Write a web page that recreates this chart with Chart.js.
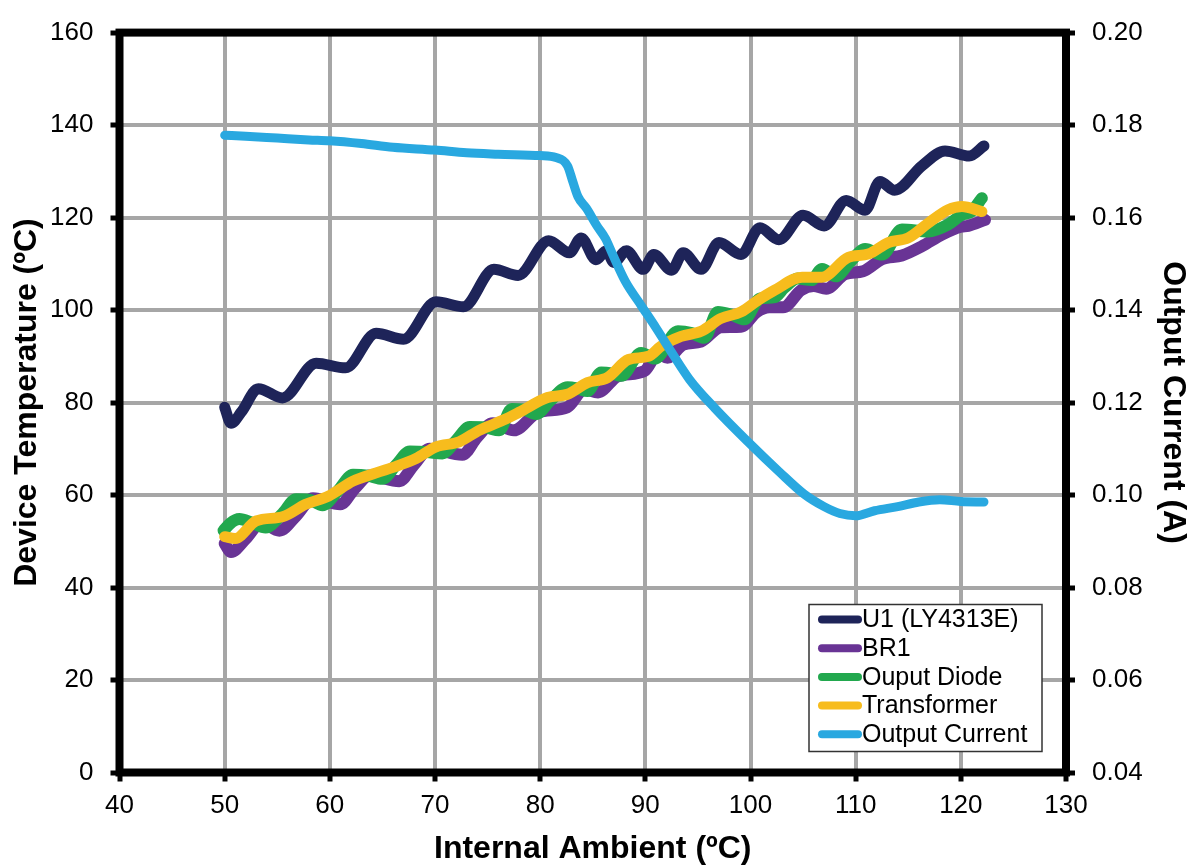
<!DOCTYPE html>
<html>
<head>
<meta charset="utf-8">
<script src="https://cdn.jsdelivr.net/npm/chart.js@4.4.1/dist/chart.umd.min.js"></script>
<style>
  body { margin: 0; background: #fff; }
  #wrap { width: 1195px; height: 868px; }
</style>
</head>
<body>
<div id="wrap"><canvas id="thermalChart"></canvas></div>
<script>
// U1 (LY4313E) - device temperature
const u1X = [50.0, 50.6, 51.6, 53.2, 55.5, 58.7, 61.5, 64.4, 67.0, 70.1, 72.7, 75.6, 77.9, 80.8, 82.8, 83.9, 85.3, 86.3, 87.0, 88.2, 89.8, 90.8, 92.5, 93.6, 95.3, 97.0, 99.1, 100.9, 102.7, 105.0, 107.0, 109.1, 110.9, 112.3, 113.7, 116.3, 118.5, 120.8, 122.2];
const u1Y = [79.0, 75.5, 78.0, 83.0, 81.0, 88.5, 87.5, 95.0, 93.7, 101.8, 100.7, 108.8, 107.5, 115.0, 112.4, 115.6, 110.9, 112.8, 110.3, 112.8, 108.8, 112.0, 108.6, 112.4, 108.8, 114.6, 112.0, 117.8, 115.2, 120.5, 118.2, 123.7, 121.6, 127.8, 125.9, 131.2, 134.4, 133.3, 135.5];

// BR1
const br1X = [50.0, 50.6, 52.0, 53.5, 55.2, 56.8, 58.4, 61.0, 62.4, 63.8, 66.6, 68.0, 69.5, 72.6, 74.0, 75.5, 77.5, 79.8, 82.6, 84.2, 85.5, 87.4, 89.9, 91.2, 92.1, 93.6, 95.3, 97.2, 99.1, 100.6, 101.8, 103.1, 104.8, 106.0, 107.2, 109.0, 110.7, 112.5, 114.4, 116.3, 118.2, 120.0, 120.7, 122.3];
const br1Y = [49.5, 47.7, 50.5, 54.0, 52.3, 55.5, 59.3, 58.0, 61.5, 64.2, 63.0, 66.5, 70.0, 68.7, 72.5, 75.5, 74.0, 77.9, 79.0, 82.9, 82.2, 85.7, 86.8, 90.5, 89.7, 92.5, 93.2, 96.3, 96.4, 99.6, 100.6, 100.6, 104.3, 105.2, 104.6, 107.8, 108.4, 111.0, 111.8, 113.8, 116.3, 118.0, 118.2, 119.5];

// Ouput Diode
const diodeX = [49.9, 50.5, 51.4, 52.6, 53.9, 55.5, 56.8, 58.0, 59.3, 60.8, 62.2, 63.6, 65.0, 66.3, 67.6, 69.2, 70.7, 72.0, 73.3, 74.8, 76.1, 77.3, 78.4, 79.6, 81.0, 82.6, 83.6, 84.5, 85.8, 86.8, 87.7, 89.6, 90.9, 93.1, 94.4, 95.6, 96.9, 98.2, 99.4, 100.9, 102.3, 103.2, 104.5, 105.8, 106.8, 108.1, 109.5, 110.9, 112.5, 114.4, 116.9, 118.8, 120.1, 121.0, 122.0];
const diodeY = [52.3, 53.8, 54.8, 54.0, 53.0, 56.0, 59.1, 59.0, 57.8, 61.0, 64.4, 64.2, 63.5, 66.5, 69.4, 69.3, 69.0, 71.8, 74.7, 74.6, 74.0, 78.6, 78.5, 77.5, 80.5, 83.3, 83.0, 82.5, 86.5, 86.3, 85.8, 90.7, 89.5, 95.4, 95.0, 94.0, 99.6, 99.0, 98.0, 102.5, 102.8, 104.8, 106.8, 106.5, 108.9, 107.3, 110.5, 113.2, 112.0, 117.4, 117.0, 118.5, 120.6, 121.3, 124.2];

// Transformer
const xfmrX = [50.0, 51.0, 53.0, 55.5, 57.7, 59.9, 62.2, 64.4, 66.3, 68.2, 70.1, 72.3, 74.2, 76.5, 78.0, 80.7, 82.6, 84.5, 86.4, 88.4, 90.3, 91.5, 93.4, 95.3, 97.2, 99.1, 100.7, 102.3, 104.9, 106.8, 109.3, 111.2, 113.1, 115.0, 116.9, 118.8, 120.1, 122.0];
const xfmrY = [51.0, 50.6, 54.4, 55.3, 58.0, 59.8, 63.0, 64.8, 66.2, 67.9, 70.4, 71.5, 74.0, 76.2, 77.9, 81.1, 81.8, 84.3, 85.4, 89.3, 90.0, 92.2, 94.3, 95.4, 98.2, 99.6, 102.1, 104.3, 107.1, 107.1, 111.4, 112.1, 114.6, 115.6, 118.8, 121.7, 122.4, 121.3];

// Output Current (A), right axis
const currX = [50, 52, 55, 58, 60, 63, 66, 70, 73, 76, 80, 81.5, 82.6, 83.1, 83.6, 84.4, 85.4, 86.2, 86.9, 88.1, 89.6, 91.0, 92.4, 94.2, 96.6, 99.9, 102.7, 105.1, 107.0, 108.5, 110.0, 111.8, 114.0, 116.0, 118.0, 120.0, 122.2];
const currY = [0.1778, 0.1776, 0.1772, 0.1768, 0.1766, 0.1760, 0.1752, 0.1746, 0.1740, 0.1737, 0.1734, 0.1730, 0.1712, 0.1678, 0.1645, 0.1620, 0.1582, 0.1555, 0.1520, 0.1462, 0.1410, 0.1362, 0.1312, 0.1250, 0.1188, 0.1112, 0.1051, 0.1002, 0.0975, 0.0960, 0.0955, 0.0966, 0.0975, 0.0985, 0.0990, 0.0986, 0.0985];

const seriesLabels = ["U1 (LY4313E)", "BR1", "Ouput Diode", "Transformer", "Output Current"];
const seriesColors = ["#1e2459", "#693495", "#22a84e", "#f7bc1d", "#29a8e0"];

const toPoints = (xs, ys) => xs.map((x, i) => ({ x: x, y: ys[i] }));

Chart.defaults.font.family = "'Liberation Sans', Arial, sans-serif";
Chart.defaults.color = "#000";

// schwarzer rahmen um den plotbereich
const frame = {
    id: "frame",
    beforeDatasetsDraw(chart) {
        const { ctx, chartArea: a } = chart;
        ctx.save();
        ctx.strokeStyle = "#000";
        ctx.lineWidth = 8;
        ctx.strokeRect(a.left, a.top, a.right - a.left, a.bottom - a.top);
        ctx.restore();
    }
};

// legende unten rechts im plot
const legendBox = {
    id: "legendBox",
    afterDraw(chart) {
        const { ctx, chartArea: a } = chart;
        const x0 = a.right - 257, y0 = a.bottom - 168, w = 233, h = 147;
        ctx.save();
        ctx.fillStyle = "#fff";
        ctx.fillRect(x0, y0, w, h);
        ctx.strokeStyle = "#333";
        ctx.lineWidth = 1.5;
        ctx.strokeRect(x0, y0, w, h);
        ctx.font = "25px 'Liberation Sans', Arial, sans-serif";
        ctx.textBaseline = "middle";
        ctx.lineCap = "round";
        chart.data.datasets.forEach((ds, i) => {
            const y = y0 + 15 + i * 28.7;
            ctx.strokeStyle = ds.borderColor;
            ctx.lineWidth = 8;
            ctx.beginPath();
            ctx.moveTo(x0 + 13, y);
            ctx.lineTo(x0 + 49, y);
            ctx.stroke();
            ctx.fillStyle = "#000";
            ctx.fillText(ds.label, x0 + 53, y + 1);
        });
        ctx.restore();
    }
};

const gridStyle = {
    color: "#a6a6a6",
    lineWidth: 4,
    tickColor: "#000",
    tickWidth: 5,
    tickLength: 9
};

const mkLine = (i, pts, axis, width, order) => ({
    type: "line",
    label: seriesLabels[i],
    data: pts,
    yAxisID: axis,
    borderColor: seriesColors[i],
    backgroundColor: seriesColors[i],
    borderWidth: width,
    borderCapStyle: "round",
    borderJoinStyle: "round",
    cubicInterpolationMode: "monotone",
    pointRadius: 0,
    fill: false,
    order: order
});

new Chart(document.getElementById("thermalChart"), {
    type: "line",
    data: {
        datasets: [
            mkLine(0, toPoints(u1X, u1Y), "y", 11, 5),
            mkLine(1, toPoints(br1X, br1Y), "y", 12, 4),
            mkLine(2, toPoints(diodeX, diodeY), "y", 12, 3),
            mkLine(3, toPoints(xfmrX, xfmrY), "y", 11, 2),
            mkLine(4, toPoints(currX, currY), "y2", 9, 1)
        ]
    },
    options: {
        responsive: true,
        maintainAspectRatio: false,
        animation: false,
        layout: { padding: { top: 23.5, left: 0, right: 0, bottom: 0 } },
        plugins: {
            legend: { display: false },
            tooltip: { enabled: false }
        },
        scales: {
            x: {
                type: "linear",
                position: "bottom",
                min: 40,
                max: 130,
                ticks: { stepSize: 10, font: { size: 26 }, padding: 9 },
                grid: gridStyle,
                border: { display: false },
                title: {
                    display: true,
                    text: "Internal Ambient (ºC)",
                    font: { size: 32, weight: "bold" },
                    padding: { top: 0, bottom: 0 }
                },
                afterFit: (s) => { s.height = 95.5; }
            },
            y: {
                type: "linear",
                position: "left",
                min: 0,
                max: 160,
                ticks: { stepSize: 20, font: { size: 26 }, padding: 17 },
                grid: gridStyle,
                border: { display: false },
                title: {
                    display: true,
                    text: "Device Temperature (ºC)",
                    font: { size: 32, weight: "bold" },
                    padding: { top: 8, bottom: 0 }
                },
                afterFit: (s) => { s.width = 119.5; }
            },
            y2: {
                type: "linear",
                position: "right",
                min: 0.04,
                max: 0.20,
                ticks: {
                    stepSize: 0.02,
                    font: { size: 26 },
                    padding: 17,
                    callback: (v) => v.toFixed(2)
                },
                grid: Object.assign({}, gridStyle, { drawOnChartArea: false }),
                border: { display: false },
                title: {
                    display: true,
                    text: "Output Current (A)",
                    font: { size: 32, weight: "bold" },
                    padding: { top: 3, bottom: 0 }
                },
                afterFit: (s) => { s.width = 129; }
            }
        }
    },
    plugins: [frame, legendBox]
});
</script>
</body>
</html>
